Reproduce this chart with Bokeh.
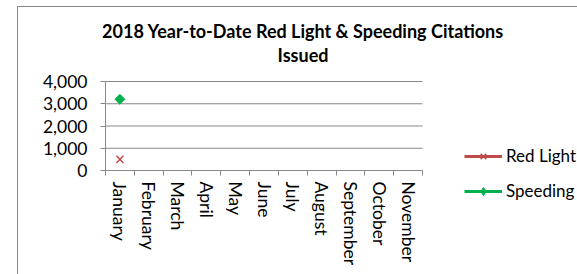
import math
from bokeh.plotting import figure
from bokeh.models import (Range1d, LinearAxis, FixedTicker, NumeralTickFormatter,
                          Label, Legend, LegendItem, InlineStyleSheet)
from bokeh.embed import file_html
from bokeh.resources import INLINE

# ---- data ----
months = ["January", "February", "March", "April", "May", "June", "July",
          "August", "September", "October", "November"]
data_months = ["January"]
red_light = [500]
speeding = [3200]
y_ticks = [0, 1000, 2000, 3000, 4000]
title_lines = ["2018 Year-to-Date Red Light & Speeding Citations", "Issued"]

FONT = "Lato"
GRAY = "#898989"
RED = "#BE4B48"
GREEN = "#00B050"

# ---- layout (canvas pixels) ----
W, H = 577, 274
LEFT, TOP, FW, FH = 105, 81, 317, 89          # plot-area box inside the canvas
n = len(months)
px_x = FW / n
px_y = FH / (y_ticks[-1] - y_ticks[0])
x0 = -0.5 - LEFT / px_x
y1 = y_ticks[-1] + TOP / px_y

p = figure(width=W, height=H, output_backend="svg", toolbar_location=None,
           x_range=Range1d(x0, x0 + W / px_x), y_range=Range1d(y1 - H / px_y, y1),
           x_axis_type=None, y_axis_type=None,
           min_border_left=0, min_border_right=0, min_border_top=0, min_border_bottom=0)
p.outline_line_color = None
p.background_fill_color = "white"
p.border_fill_color = "white"
p.xgrid.visible = False
p.ygrid.visible = False
p.stylesheets = [InlineStyleSheet(css=(
    ":host { position: relative; }"
    ":host::after { content: ''; position: absolute; left: 17px; top: 6px;"
    f" width: {W - 17}px; height: {H - 6}px; border-left: 1px solid {GRAY};"
    f" border-top: 1px solid {GRAY}; box-sizing: border-box; pointer-events: none; }}"))]

# horizontal gridlines across the category span
p.segment(x0=[-0.5] * len(y_ticks), x1=[n - 0.5] * len(y_ticks), y0=y_ticks, y1=y_ticks,
          line_color=GRAY, line_width=1)

# y axis
yaxis = LinearAxis(ticker=FixedTicker(ticks=y_ticks), formatter=NumeralTickFormatter(format="0,0"),
                   fixed_location=-0.5, bounds=(y_ticks[0], y_ticks[-1]))
yaxis.axis_line_color = GRAY
yaxis.major_tick_line_color = GRAY
yaxis.major_tick_in = 0
yaxis.major_tick_out = 5
yaxis.minor_tick_line_color = None
yaxis.major_label_standoff = 13
yaxis.major_label_text_font = FONT
yaxis.major_label_text_font_size = "17.5px"
yaxis.major_label_text_color = "black"
p.add_layout(yaxis, "left")

# x axis: labels at category centres, ticks at category boundaries
xaxis = LinearAxis(ticker=FixedTicker(ticks=list(range(n)),
                                      minor_ticks=[i - 0.5 for i in range(n + 1)]),
                   fixed_location=y_ticks[0], bounds=(-0.5, n - 0.5))
xaxis.major_label_overrides = {i: m for i, m in enumerate(months)}
xaxis.major_label_orientation = "vertical"
xaxis.axis_line_color = GRAY
xaxis.major_tick_line_color = None
xaxis.major_tick_in = 0
xaxis.major_tick_out = 5
xaxis.minor_tick_line_color = GRAY
xaxis.minor_tick_in = 0
xaxis.minor_tick_out = 5
xaxis.major_label_standoff = 6
xaxis.major_label_text_font = FONT
xaxis.major_label_text_font_size = "17.5px"
xaxis.major_label_text_color = "black"
p.add_layout(xaxis, "below")

xs = [months.index(m) for m in data_months]
r_line = p.line(xs, red_light, line_color=RED, line_width=3)
r_mark = p.scatter(xs, red_light, marker="x", size=10, line_color=RED, line_width=1.5)
s_line = p.line(xs, speeding, line_color=GREEN, line_width=3)
s_mark = p.scatter(xs, speeding, marker="square", angle=math.pi / 4, size=7,
                   fill_color=GREEN, line_color=GREEN)
# hidden twin of the speeding marker, used only for the diamond legend key
s_key = p.scatter(xs, speeding, marker="diamond", size=10, fill_color=GREEN,
                  line_color=GREEN, visible=False)

legend = Legend(items=[LegendItem(label="Red Light", renderers=[r_line, r_mark]),
                       LegendItem(label="Speeding", renderers=[s_line, s_key])],
                location=(464, H - 201), padding=0, margin=0, spacing=14,
                glyph_width=38, glyph_height=20, label_height=20, label_standoff=4,
                border_line_color=None, background_fill_color=None,
                inactive_fill_alpha=0,
                label_text_font=FONT, label_text_font_size="17px", label_text_color="black")
p.add_layout(legend, "center")

for txt, yc in zip(title_lines, [30, 54]):
    p.add_layout(Label(x=302.5, y=H - yc, x_units="screen", y_units="screen",
                       text=txt, text_align="center", text_baseline="middle",
                       text_font=FONT, text_font_style="bold", text_font_size="18px",
                       text_color="black"))

open("out.html", "w").write(file_html(p, INLINE))
